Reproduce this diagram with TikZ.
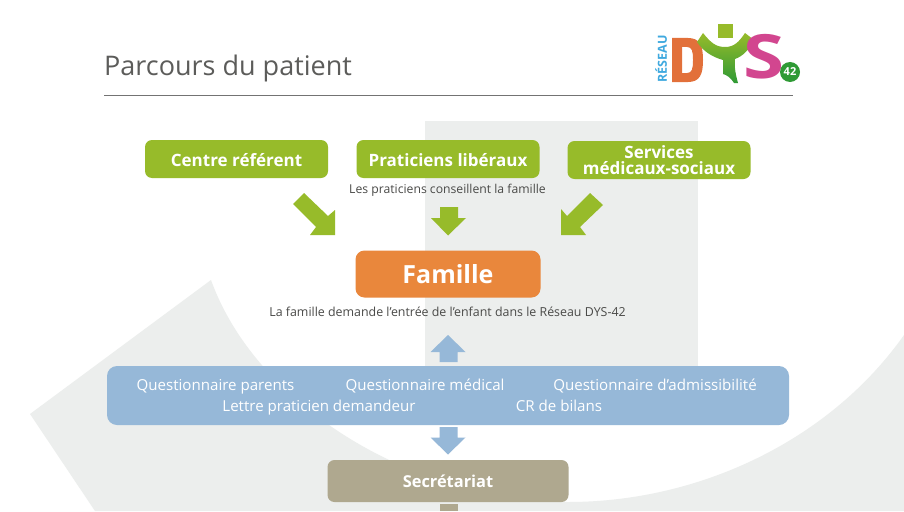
\documentclass[tikz,border=0pt]{standalone}
\usepackage{fontspec}
\setmainfont{Open Sans}
\definecolor{bggrey}{HTML}{ECEEED}
\definecolor{leaf}{HTML}{97BB2A}
\definecolor{famorange}{HTML}{E9873C}
\definecolor{docblue}{HTML}{96B8D8}
\definecolor{secbrown}{HTML}{AFA88F}
\definecolor{ink}{HTML}{4A4A48}
\definecolor{logoorange}{HTML}{E2703A}
\definecolor{logopink}{HTML}{D2468F}
\definecolor{logoblue}{HTML}{3FA9DF}
\definecolor{logogreen}{HTML}{2F9A35}
\tikzset{
 x=1pt,y=-1pt,
 stage/.style={rounded corners=7pt,minimum height=38pt,minimum width=183pt,inner sep=0pt,text=white,font=\bfseries\fontsize{17}{16}\selectfont,align=center,fill=leaf},
 single/.style={text height=14.5pt,text depth=0pt},
 note/.style={anchor=base,text=ink,font=\fontsize{12.2}{14}\selectfont,inner sep=0pt},
 doc/.style={anchor=base,text=white,font=\fontsize{15.1}{17}\selectfont,inner sep=0pt}
}
\begin{document}
\begin{tikzpicture}
\useasboundingbox (0,0) rectangle (904,511);
\fill[white] (0,0) rectangle (904,511);
% background
\fill[bggrey] (425,121) rectangle (698,400);
\fill[bggrey] (211,280) .. controls (258,410) and (420,502) .. (568,502) .. controls (700,502) and (830,440) .. (904,335) -- (904,511) -- (95,511) -- (30,414) -- cycle;
% title
\node[anchor=base west,inner sep=0pt,text=ink!90,font=\fontsize{27}{30}\selectfont] (title) at (104,75) {Parcours du patient};
\coordinate (ruleL) at (104,95.5);
\coordinate (ruleR) at (793,95.5);
\draw[black!55,line width=1.4pt] (ruleL) -- (ruleR);
% logo
\node[rotate=90,text=logoblue,font=\bfseries\fontsize{12.5}{13}\selectfont,inner sep=0pt] (reseau) at (661,59) {RÉSEAU};
\fill[logoorange,even odd rule] (672,38) -- (688,38) .. controls (700,38) and (703,46) .. (703,60) .. controls (703,74) and (700,82) .. (688,82) -- (672,82) -- cycle
 (682,47) -- (682,73) -- (687,73) .. controls (692,73) and (693,69) .. (693,60) .. controls (693,51) and (692,47) .. (687,47) -- cycle;
\fill[leaf] (718,24) rectangle (733,38);
\shade[top color=leaf,bottom color=logogreen] (703,33) .. controls (711,43) and (716,47) .. (725,47) .. controls (734,47) and (739,42) .. (745,33) -- (754,40) .. controls (749,50) and (743,56) .. (735,59) .. controls (734,67) and (736,76) .. (738,83) -- (734,83) .. controls (731,78) and (727,75) .. (723,74) -- (723,60) .. controls (712,57) and (703,51) .. (697,42) -- cycle;
\node[text=logopink,font=\bfseries\fontsize{61}{61}\selectfont,inner sep=0pt,xscale=1.22] (logos) at (764,57) {S};
\node[circle,fill=logogreen,minimum size=20pt,inner sep=0pt,text=white,font=\bfseries\fontsize{11}{11}\selectfont] (num) at (790,72) {42};
% nodes
\node[stage,single] (centre) at (236.5,159) {Centre référent};
\node[stage,single] (prat) at (448,159) {Praticiens libéraux};
\node[stage] (serv) at (659,160) {Services\\médicaux-sociaux};
\node[note] (conseil) at (447.5,193) {Les praticiens conseillent la famille};
\node[stage,fill=famorange,minimum width=185pt,minimum height=47pt,rounded corners=9pt,font=\bfseries\fontsize{25}{28}\selectfont] (fam) at (448,274) {Famille};
\node[note,font=\fontsize{12.4}{14}\selectfont] (dem) at (447.5,316) {La famille demande l’entrée de l’enfant dans le Réseau DYS-42};
\node[rounded corners=10pt,fill=docblue,minimum width=682pt,minimum height=59pt,inner sep=0pt] (docs) at (448,395.5) {};
\node[doc] (q1) at (215.5,390) {Questionnaire parents};
\node[doc] (q2) at (425,390) {Questionnaire médical};
\node[doc] (q3) at (655,390) {Questionnaire d’admissibilité};
\node[doc] (q4) at (319,411) {Lettre praticien demandeur};
\node[doc] (q5) at (559,411) {CR de bilans};
\node[stage,fill=secbrown,minimum width=241pt,minimum height=42pt,rounded corners=7pt,font=\bfseries\fontsize{16.4}{18}\selectfont] (sec) at (448,481) {Secrétariat};
% arrows
\fill[leaf] (304,193) -- (328,216) -- (335,210) -- (335,235) -- (310,235) -- (316,227) -- (293,204) -- cycle;
\fill[leaf] (440,207) -- (458,207) -- (458,218) -- (466,218) -- (448,235.5) -- (431,218) -- (440,218) -- cycle;
\fill[leaf] (590,193) -- (567,216) -- (561,209) -- (561,235) -- (586,235) -- (580,227) -- (603,205) -- cycle;
\fill[docblue] (448,335) -- (465.5,352) -- (457.5,352) -- (457.5,362) -- (439.5,362) -- (439.5,352) -- (430.5,352) -- cycle;
\fill[docblue] (439.5,427) -- (457.5,427) -- (457.5,437.5) -- (465.5,437.5) -- (448,454.5) -- (430.5,437.5) -- (439.5,437.5) -- cycle;
\fill[secbrown] (439.5,504) rectangle (457.5,511);
\end{tikzpicture}
\end{document}
